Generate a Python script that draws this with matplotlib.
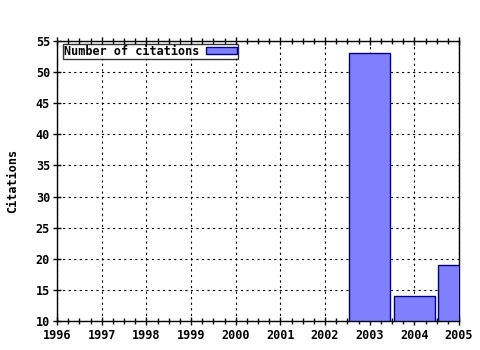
import matplotlib
matplotlib.use("Agg")
import matplotlib.pyplot as plt
from matplotlib.ticker import MultipleLocator

years = [2003, 2004, 2005]
citations = [53, 14, 19]
xticks = list(range(1996, 2006))
yticks = list(range(10, 56, 5))

plt.rcParams['font.family'] = ['DejaVu Sans Mono']
plt.rcParams['font.weight'] = 'bold'

fig = plt.figure(figsize=(4.8, 3.5), dpi=100)
ax = fig.add_axes([57/480, 29/350, 402/480, 280/350])

ax.bar(years, [c - 10 for c in citations], bottom=10, width=0.92,
       color='#8080ff', edgecolor='#000080', linewidth=1.0,
       label='Number of citations', zorder=3, clip_on=True)

ax.set_xlim(1996, 2005)
ax.set_ylim(10, 55)
ax.set_xticks(xticks)
ax.set_xticklabels([str(x) for x in xticks])
ax.set_yticks(yticks)
ax.xaxis.set_minor_locator(MultipleLocator(0.25))

ax.grid(True, which='major', linestyle=(0, (2, 3)), color='black', linewidth=0.8, zorder=1)

ax.tick_params(axis='x', which='major', direction='inout', length=6, top=True,
               labelsize=8.5, width=1, pad=3)
ax.tick_params(axis='x', which='minor', direction='inout', length=4, top=True, width=1)
ax.tick_params(axis='y', which='major', direction='inout', length=6, labelsize=8.5, width=1, pad=2)

for lbl in ax.get_xticklabels() + ax.get_yticklabels():
    lbl.set_fontweight('bold')

for s in ax.spines.values():
    s.set_linewidth(1.0)

ax.set_ylabel('Citations', fontsize=8.5, fontweight='bold', labelpad=12)

leg = ax.legend(loc='upper left', bbox_to_anchor=(0.014, 0.99), markerfirst=False,
                frameon=True, fancybox=False, edgecolor='black', fontsize=8.5,
                borderpad=0.1, handlelength=2.6, handleheight=0.55, handletextpad=0.6,
                borderaxespad=0.0)
leg.get_frame().set_linewidth(1.0)
for t in leg.get_texts():
    t.set_fontweight('bold')

fig.savefig('out.png', dpi=100)
